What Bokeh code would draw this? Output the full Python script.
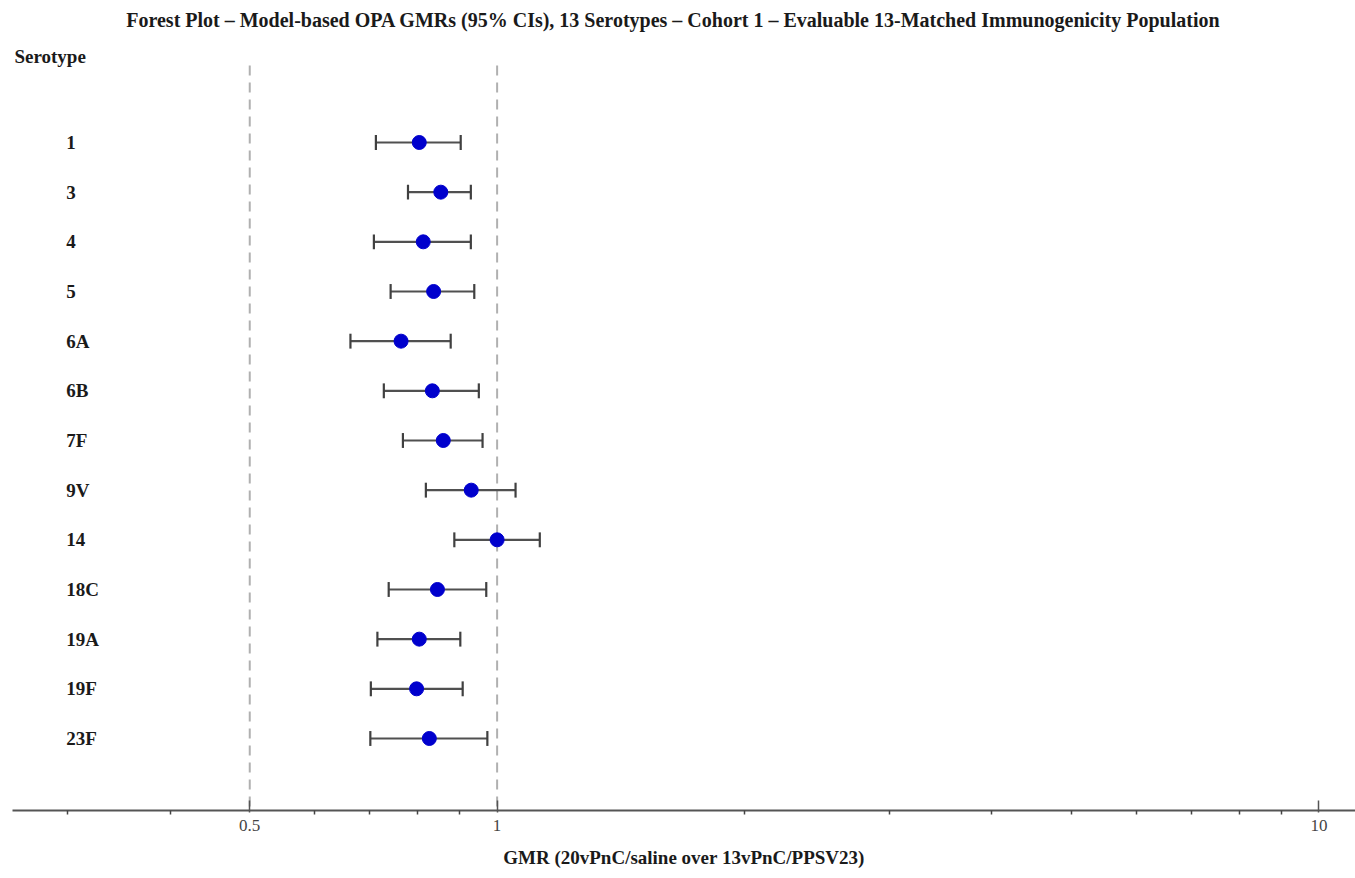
from bokeh.plotting import figure
from bokeh.models import ColumnDataSource, FixedTicker
from bokeh.core.properties import value
from bokeh.embed import file_html
from bokeh.resources import INLINE

serotypes = ["1", "3", "4", "5", "6A", "6B", "7F", "9V", "14", "18C", "19A", "19F", "23F"]
gmr = [0.804, 0.854, 0.813, 0.837, 0.764, 0.834, 0.860, 0.930, 1.00, 0.846, 0.804, 0.798, 0.827]
lower = [0.712, 0.779, 0.708, 0.742, 0.663, 0.728, 0.768, 0.819, 0.887, 0.738, 0.715, 0.702, 0.701]
upper = [0.903, 0.929, 0.929, 0.938, 0.878, 0.950, 0.960, 1.053, 1.127, 0.970, 0.902, 0.908, 0.973]
major_ticks = [0.5, 1, 10]
major_labels = ["0.5", "1", "10"]
minor_ticks = [0.3, 0.4, 0.6, 0.7, 0.8, 0.9, 2, 3, 4, 5, 6, 7, 8, 9]
ref_lines = [0.5, 1]

title_text = ("Forest Plot \u2013 Model-based OPA GMRs (95% CIs), 13 Serotypes \u2013 Cohort 1 "
              "\u2013 Evaluable 13-Matched Immunogenicity Population")
xlabel = "GMR (20vPnC/saline over 13vPnC/PPSV23)"

SERIF = "Liberation Serif"
ypos = list(range(len(serotypes)))
CAP = 0.15

src = ColumnDataSource(dict(
    serotype=serotypes, y=ypos, gmr=gmr, lower=lower, upper=upper,
    y0=[v - CAP for v in ypos], y1=[v + CAP for v in ypos],
))

X_LO, X_HI = 0.2572, 11.08
Y_TOP, Y_BOT = -2.859, 13.45

p = figure(width=1355, height=878, x_axis_type="log",
           x_range=(X_LO, X_HI), y_range=(Y_BOT, Y_TOP),
           output_backend="svg", toolbar_location=None,
           min_border_left=12, min_border_right=0, min_border_top=0, min_border_bottom=68)
p.outline_line_color = None
p.xgrid.visible = False
p.ygrid.visible = False
p.yaxis.visible = False
p.background_fill_color = "white"
p.border_fill_color = "white"

# reference lines
p.segment(x0=ref_lines, x1=ref_lines, y0=[-1.55] * len(ref_lines), y1=[Y_BOT] * len(ref_lines),
          line_color="#b0b0b0", line_width=2, line_dash="10 7")

# CI bars and caps
p.segment(x0="lower", x1="upper", y0="y", y1="y", source=src, line_color="#505050", line_width=2.2)
p.segment(x0="lower", x1="lower", y0="y0", y1="y1", source=src, line_color="#404040", line_width=2.2)
p.segment(x0="upper", x1="upper", y0="y0", y1="y1", source=src, line_color="#404040", line_width=2.2)

p.scatter(x="gmr", y="y", source=src, size=14, marker="circle",
          fill_color="#0000CD", line_color="#0000CD")

# row labels
p.text(x=[0.2991] * len(serotypes), y=ypos, text=serotypes,
       text_font=value(SERIF), text_font_style="bold", text_font_size="19px",
       text_align="left", text_baseline="middle", text_color="#1a1a1a")

# header and title
p.text(x=[0.2586], y=[-1.73], text=["Serotype"],
       text_font=value(SERIF), text_font_style="bold", text_font_size="19px",
       text_align="left", text_baseline="middle", text_color="#1a1a1a")
p.text(x=[1.639], y=[-2.46], text=[title_text],
       text_font=value(SERIF), text_font_style="bold", text_font_size="20px",
       text_align="center", text_baseline="middle", text_color="#1a1a1a")

ax = p.xaxis[0]
ax.ticker = FixedTicker(ticks=major_ticks, minor_ticks=minor_ticks)
ax.major_label_overrides = {t: l for t, l in zip(major_ticks, major_labels)}
ax.axis_line_color = "#555555"
ax.axis_line_width = 2
ax.major_tick_line_color = "#555555"
ax.major_tick_line_width = 1.5
ax.major_tick_in = 10
ax.major_tick_out = 2
ax.minor_tick_line_color = "#444444"
ax.minor_tick_line_width = 1.5
ax.minor_tick_in = 0
ax.minor_tick_out = 4
ax.major_label_text_font = SERIF
ax.major_label_text_font_size = "17px"
ax.major_label_text_color = "#444444"
ax.major_label_standoff = 5
ax.axis_label = xlabel
ax.axis_label_text_font = SERIF
ax.axis_label_text_font_style = "bold"
ax.axis_label_text_font_size = "19px"
ax.axis_label_text_color = "#1a1a1a"
ax.axis_label_standoff = 13

open("out.html", "w").write(file_html(p, INLINE))
